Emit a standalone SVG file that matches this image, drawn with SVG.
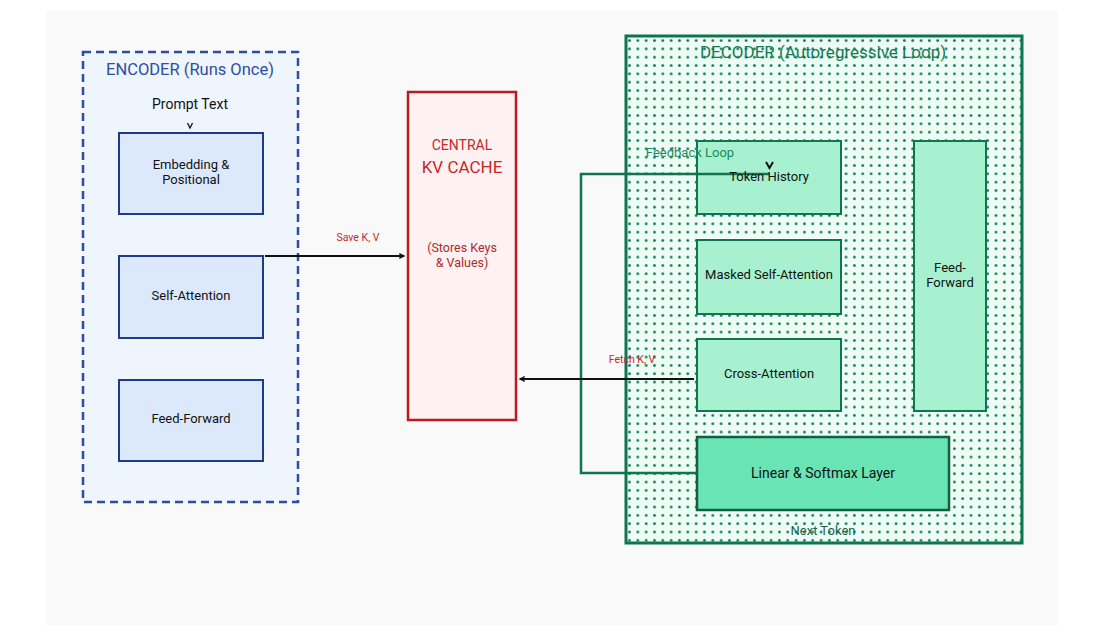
<svg xmlns="http://www.w3.org/2000/svg" width="1105" height="636" viewBox="0 0 1105 636">
<defs>
<style>
text{font-family:Roboto,"Liberation Sans",sans-serif;text-anchor:middle;dominant-baseline:middle}
.enc{fill:#dce9fd;stroke:#1e3a8a;stroke-width:2}
.dec{fill:#a7f1d0;stroke:#0d7650;stroke-width:2}
.lbl{font-size:13px;fill:#111}
.conn{fill:none;stroke:#111;stroke-width:2}
.loop{fill:none;stroke:#0d7650;stroke-width:2.5}
</style>
<pattern id="dots" patternUnits="userSpaceOnUse" x="625.33" y="36.33" width="8.33" height="8.33">
<circle cx="4.17" cy="4.17" r="1.4" fill="#0f7a55"/>
</pattern>
<marker id="ah" viewBox="0 0 10 10" refX="9" refY="5" markerWidth="6" markerHeight="6" orient="auto" markerUnits="userSpaceOnUse">
<path d="M1,1 L9,5 L1,9" fill="none" stroke="#111" stroke-width="2"/>
</marker>
</defs>
<rect x="46" y="10" width="1012" height="615" fill="#f9f9f9"/>

<g id="encoder">
<rect x="83" y="52" width="215" height="450" fill="#eef5fd" stroke="#2f4da0" stroke-width="2.5" stroke-dasharray="8,5"/>
<text x="190" y="71" font-size="16.5" fill="#2f4da0">ENCODER (Runs Once)</text>
<text x="190" y="105" font-size="14" fill="#111">Prompt Text</text>
<path d="M187.5,123 L190,128 L192.5,123" fill="none" stroke="#111" stroke-width="1.3"/>
</g>
<g id="enc-embed"><rect class="enc" x="119" y="133" width="144" height="81"/><text class="lbl" x="191" y="166">Embedding &amp;</text><text class="lbl" x="191" y="181">Positional</text></g>
<g id="enc-selfattn"><rect class="enc" x="119" y="256" width="144" height="82"/><text class="lbl" x="191" y="297">Self-Attention</text></g>
<g id="enc-ff"><rect class="enc" x="119" y="380" width="144" height="81"/><text class="lbl" x="191" y="420">Feed-Forward</text></g>

<g id="kvcache">
<rect x="408" y="92" width="108" height="328" fill="#fdf1f1" stroke="#b91c1c" stroke-width="2.5"/>
<text x="462" y="146" font-size="14" fill="#c62828">CENTRAL</text>
<text x="462" y="169" font-size="17" fill="#c62828">KV CACHE</text>
<text x="462" y="248.5" font-size="12.5" fill="#b02a2a">(Stores Keys</text>
<text x="462" y="263.5" font-size="12.5" fill="#b02a2a">&amp; Values)</text>
</g>

<g id="decoder">
<rect x="626" y="36" width="396" height="507" fill="#edfcf5" stroke="none"/>
<text x="823" y="54" font-size="17" fill="#137a55">DECODER (Autoregressive Loop)</text>
<text x="823" y="532" font-size="13" fill="#1d5e44">Next Token</text>
<rect x="626" y="36" width="396" height="507" fill="url(#dots)" stroke="#0d7650" stroke-width="3"/>
</g>

<g id="dec-token"><rect class="dec" x="697" y="141" width="144" height="73"/></g>
<g id="dec-masked"><rect class="dec" x="697" y="240" width="144" height="74"/><text class="lbl" x="769" y="276">Masked Self-Attention</text></g>
<g id="dec-cross"><rect class="dec" x="697" y="339" width="144" height="72"/><text class="lbl" x="769" y="375">Cross-Attention</text></g>
<g id="dec-ff"><rect class="dec" x="914" y="141" width="72" height="270"/><text class="lbl" x="950" y="269">Feed-</text><text class="lbl" x="950" y="284">Forward</text></g>
<g id="dec-linear"><rect x="697" y="437" width="252" height="73" fill="#69e4b4" stroke="#115e42" stroke-width="2.5"/><text x="823" y="474" font-size="14" fill="#111">Linear &amp; Softmax Layer</text></g>

<g id="connectors">
<path class="loop" d="M697,473 H581 V174 H769"/>
<path d="M766,162 L769.5,168 L773,162" fill="none" stroke="#111" stroke-width="2"/>
<text x="690" y="154" font-size="13" fill="#1a8a60">Feedback Loop</text>
<line class="conn" x1="265" y1="256" x2="404" y2="256" marker-end="url(#ah)"/>
<text x="358" y="238" font-size="10.5" fill="#c62828">Save K, V</text>
<line class="conn" x1="694" y1="379" x2="520" y2="379" marker-end="url(#ah)"/>
<text x="632" y="360" font-size="10.5" fill="#c62828">Fetch K, V</text>
</g>
<text class="lbl" x="769" y="178">Token History</text>
</svg>
